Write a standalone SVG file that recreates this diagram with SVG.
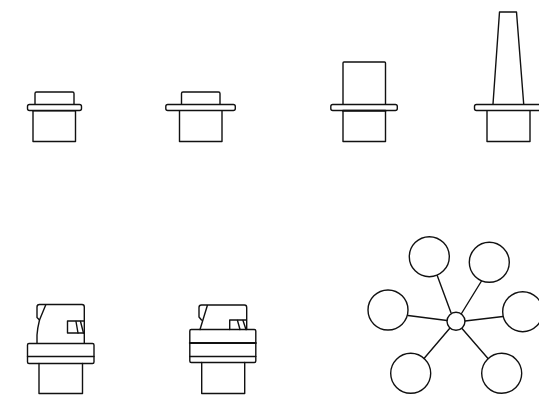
<svg xmlns="http://www.w3.org/2000/svg" width="539" height="403" viewBox="0 0 539 403">
<style>
rect,path,circle,line{fill:none;stroke:#111;stroke-width:1.4;stroke-linejoin:round;stroke-linecap:round}
</style>
<rect width="539" height="403" style="fill:#fff;stroke:none"/>
<g id="part1">
<path d="M35 104V93.500Q35 92 36.500 92H72.500Q74 92 74 93.500V104"/>
<path d="M33 111V141.500H75.500V111"/>
<rect x="27.500" y="104.500" width="54" height="6" rx="2"/>
<line x1="33" y1="110.700" x2="75.500" y2="110.700"/>
</g>
<g id="part2">
<path d="M181.500 104V93.500Q181.500 92 183 92H218.500Q220 92 220 93.500V104"/>
<path d="M179.500 111V141.500H222V111"/>
<rect x="165.800" y="104.500" width="69.500" height="6" rx="2"/>
</g>
<g id="part3">
<path d="M343 104V63Q343 62 344 62H384.500Q385.500 62 385.500 63V104"/>
<path d="M343 111V141.500H385.500V111"/>
<rect x="330.800" y="104.500" width="66.500" height="6" rx="2"/>
<line x1="343" y1="110.700" x2="385.500" y2="110.700" style="stroke-width:2"/>
</g>
<g id="part4">
<path d="M493 104L499.500 12H516.500L523.700 104"/>
<path d="M487 111V141.500H530V111"/>
<rect x="474.500" y="104.500" width="70" height="6" rx="2"/>
</g>
<g id="part5">
<path d="M37 343V335Q37.500 328 39.500 320L45.700 305"/>
<path d="M39.500 320L37 317.500V307Q37 304.500 39.500 304.500H82Q84.300 304.500 84.300 307V343"/>
<path d="M84 333H67.500V321H84"/>
<path d="M76 321.500L78 333M80.500 321.500L83.500 333"/>
<rect x="27.500" y="343.500" width="66.500" height="20" rx="1.500"/>
<line x1="27.500" y1="356.500" x2="94" y2="356.500"/>
<path d="M39 363.500V393.500H82.500V363.500"/>
</g>
<g id="part6">
<path d="M200 329.500L207.500 305M201.500 320L199 317V307.500Q199 305 201.500 305H244.500Q246.700 305 246.700 307.500V329.500"/>
<path d="M229.700 329.500V320H246"/>
<path d="M237.500 320.500L240 329.500M243 320.500L246 329.500"/>
<rect x="189.800" y="329.500" width="66" height="33" rx="1.500"/>
<line x1="189.800" y1="343" x2="255.800" y2="343" style="stroke-width:2"/>
<line x1="189.800" y1="356.500" x2="255.800" y2="356.500"/>
<path d="M201.700 362.500V393.500H244.700V362.500"/>
</g>
<g id="hub-links">
<line x1="437.300" y1="275.700" x2="451" y2="312.700"/>
<line x1="481.500" y1="281" x2="461.500" y2="313.500"/>
<line x1="408" y1="315.500" x2="447" y2="320.500"/>
<line x1="503" y1="316.500" x2="465" y2="321"/>
<line x1="424" y1="358.500" x2="450" y2="328"/>
<line x1="488" y1="358.500" x2="462" y2="328.500"/>
</g>
<g id="hub"><circle cx="456" cy="321.300" r="9"/></g>
<g id="c1"><circle cx="429.300" cy="256.700" r="20"/></g>
<g id="c2"><circle cx="489.300" cy="262.300" r="20"/></g>
<g id="c3"><circle cx="388" cy="310" r="20"/></g>
<g id="c4"><circle cx="522.700" cy="311.700" r="20"/></g>
<g id="c5"><circle cx="410.700" cy="373.300" r="20"/></g>
<g id="c6"><circle cx="501.700" cy="373.300" r="20"/></g>
</svg>
